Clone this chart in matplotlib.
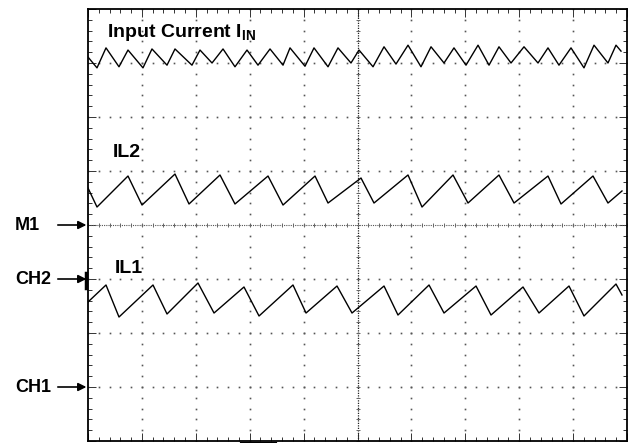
import numpy as np
import matplotlib.pyplot as plt

plt.rcParams['font.family'] = ['Liberation Sans', 'DejaVu Sans']
plt.rcParams['mathtext.fontset'] = 'custom'
plt.rcParams['mathtext.bf'] = 'Liberation Sans:bold'
plt.rcParams['mathtext.rm'] = 'Liberation Sans:bold'

# Waveform vertices (x, y in scope divisions, y=0 at M1)
iin_x = [0.0, 0.167, 0.334, 0.575, 0.742, 1.020, 1.187, 1.466, 1.614, 1.929,
         2.078, 2.301, 2.505, 2.727, 2.950, 3.154, 3.377, 3.618, 3.748, 4.026,
         4.193, 4.453, 4.638, 4.879, 5.028, 5.288, 5.492, 5.714, 5.937, 6.178,
         6.364, 6.605, 6.790, 7.013, 7.236, 7.440, 7.625, 7.848, 8.089, 8.349,
         8.534, 8.738, 8.961, 9.202, 9.388, 9.647, 9.796, 9.889]
iin_y = [3.11, 2.91, 3.28, 2.93, 3.24, 2.91, 3.26, 2.96, 3.26, 2.96,
         3.24, 3.00, 3.26, 2.93, 3.24, 2.96, 3.26, 2.96, 3.28, 2.94,
         3.28, 2.93, 3.28, 3.00, 3.24, 2.93, 3.30, 2.98, 3.33, 2.93,
         3.30, 3.00, 3.28, 2.96, 3.33, 2.96, 3.30, 3.00, 3.30, 3.00,
         3.28, 2.96, 3.28, 2.91, 3.33, 3.00, 3.33, 3.22]

il2_x = [0.0, 0.167, 0.742, 1.002, 1.614, 1.874, 2.449, 2.727, 3.340, 3.618,
         4.212, 4.453, 5.065, 5.306, 5.937, 6.197, 6.772, 7.050, 7.625, 7.904,
         8.534, 8.776, 9.369, 9.647, 9.907]
il2_y = [0.685, 0.333, 0.907, 0.370, 0.944, 0.389, 0.926, 0.389, 0.907, 0.370,
         0.907, 0.407, 0.870, 0.407, 0.926, 0.333, 0.926, 0.407, 0.926, 0.407,
         0.907, 0.389, 0.907, 0.407, 0.630]

il1_x = [0.0, 0.334, 0.575, 1.206, 1.466, 2.041, 2.338, 2.894, 3.173, 3.803,
         4.045, 4.620, 4.898, 5.492, 5.751, 6.327, 6.605, 7.199, 7.477, 8.071,
         8.367, 8.924, 9.202, 9.796, 9.907]
il1_y = [-1.426, -1.111, -1.704, -1.111, -1.648, -1.074, -1.630, -1.148, -1.685, -1.111,
         -1.630, -1.130, -1.630, -1.130, -1.667, -1.111, -1.630, -1.130, -1.667, -1.148,
         -1.630, -1.130, -1.685, -1.093, -1.296]

# channel markers on the left edge
markers = ['M1', 'CH2', 'CH1']
marker_y = [0, -1, -3]

fig = plt.figure(figsize=(6.31, 4.43), dpi=100)
ax = fig.add_axes([88 / 631, 2 / 443, 539 / 631, 432 / 443])
ax.set_xlim(0, 10)
ax.set_ylim(-4, 4)

# graticule: dots at every minor position on the major lines
minor_x = np.arange(0, 10.01, 0.2)
minor_y = np.arange(-4, 4.01, 0.2)
for yy in range(-3, 4):
    if yy == 0:
        continue
    ax.plot(minor_x, np.full_like(minor_x, yy), 's', ms=1.2, color='#555555', mec='none')
for xx in range(1, 10):
    if xx == 5:
        continue
    ax.plot(np.full_like(minor_y, xx), minor_y, 's', ms=1.2, color='#555555', mec='none')

# centre lines with small ticks
ax.axhline(0, color='#555555', lw=0.8, ls=(0, (1, 1)))
ax.axvline(5, color='#222222', lw=0.9, ls=(0, (1, 1)))
ax.plot(minor_x, np.zeros_like(minor_x), '|', ms=3.5, color='#666666', mew=0.7)
ax.plot(np.full_like(minor_y, 5), minor_y, '_', ms=3.5, color='#666666', mew=0.7)

# waveforms
ax.plot(iin_x, iin_y, color='black', lw=1.0)
ax.plot(il2_x, il2_y, color='black', lw=1.0)
ax.plot(il1_x, il1_y, color='black', lw=1.0)

# frame ticks
ax.set_xticks(range(0, 11))
ax.set_yticks(range(-4, 5))
ax.set_xticks(minor_x, minor=True)
ax.set_yticks(minor_y, minor=True)
ax.tick_params(which='both', direction='in', top=True, right=True,
               labelbottom=False, labelleft=False, color='#333333')
ax.tick_params(which='major', length=6, width=0.7)
ax.tick_params(which='minor', length=3, width=0.7)
for sp in ax.spines.values():
    sp.set_linewidth(1.3)

# labels
ax.text(0.35, 3.57, r'Input Current I$_{\mathbf{IN}}$', fontsize=14,
        fontweight='bold', va='center')
ax.text(0.46, 1.35, 'IL2', fontsize=14, fontweight='bold', va='center')
ax.text(0.50, -0.80, 'IL1', fontsize=14, fontweight='bold', va='center')

for name, yy in zip(markers, marker_y):
    ax.text(-1.35, yy, name, fontsize=13, fontweight='bold', va='center', ha='left')
    ax.annotate('', xy=(-0.03, yy), xytext=(-0.56, yy), annotation_clip=False,
                arrowprops=dict(arrowstyle='-|>', color='black', lw=1.2,
                                mutation_scale=12, shrinkA=0, shrinkB=0))

ax.plot([-0.03, -0.03], [-0.89, -1.17], color='black', lw=2.5, clip_on=False)
ax.plot([2.86, 3.47], [-4.05, -4.05], color='black', lw=3, clip_on=False)

fig.savefig('out.png', dpi=100)
